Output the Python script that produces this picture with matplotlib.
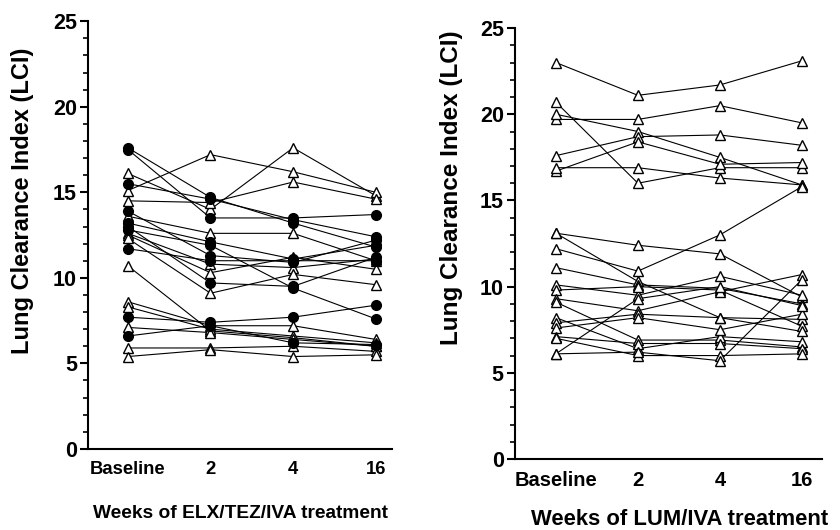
import matplotlib.pyplot as plt
from matplotlib.ticker import MultipleLocator

plt.rcParams["font.family"] = ["Liberation Sans", "DejaVu Sans"]
plt.rcParams["font.weight"] = "bold"

WEEKS = ["Baseline", "2", "4", "16"]

# ELX/TEZ/IVA: filled circles and open triangles, one row per subject
elx_filled = [
    [17.5, 13.5, 13.5, 13.7],
    [17.6, 14.7, 13.2, 11.8],
    [15.5, 14.6, 13.4, 12.4],
    [13.9, 11.3, 10.9, 12.2],
    [13.0, 9.7, 9.5, 11.2],
    [12.8, 11.9, 9.4, 7.6],
    [11.7, 11.0, 11.0, 11.0],
    [13.2, 12.1, 11.1, 11.9],
    [7.7, 7.4, 7.7, 8.4],
    [6.6, 7.2, 6.2, 6.1],
]
elx_open = [
    [16.1, 14.0, 17.6, 14.8],
    [15.1, 17.2, 16.2, 15.0],
    [14.5, 14.4, 15.6, 14.6],
    [13.6, 12.6, 12.6, 11.0],
    [12.6, 10.8, 10.6, 11.1],
    [12.5, 10.3, 11.2, 10.5],
    [12.3, 9.1, 10.2, 9.6],
    [10.7, 6.9, 6.5, 6.0],
    [8.6, 7.2, 7.2, 6.4],
    [8.3, 7.0, 6.6, 6.2],
    [7.1, 6.8, 6.4, 6.0],
    [5.9, 5.9, 6.0, 5.7],
    [5.4, 5.8, 5.4, 5.5],
]

# LUM/IVA: open triangles only
lum_open = [
    [23.0, 21.1, 21.7, 23.1],
    [19.7, 19.7, 20.5, 19.5],
    [20.7, 16.0, 16.9, 16.9],
    [20.0, 19.0, 17.5, 15.9],
    [17.6, 18.7, 18.8, 18.2],
    [16.7, 18.4, 17.1, 17.2],
    [16.9, 16.9, 16.3, 15.9],
    [13.1, 12.4, 11.9, 9.4],
    [13.1, 10.3, 8.2, 8.1],
    [12.2, 10.9, 13.0, 15.8],
    [11.1, 10.1, 9.9, 9.0],
    [10.1, 9.5, 10.6, 9.5],
    [9.8, 10.0, 9.8, 7.7],
    [9.3, 8.6, 9.7, 10.7],
    [9.1, 6.9, 6.9, 6.5],
    [8.2, 6.4, 7.1, 6.8],
    [7.9, 8.4, 8.2, 7.4],
    [7.6, 8.2, 7.5, 8.4],
    [7.1, 6.7, 6.7, 6.4],
    [7.0, 6.0, 6.0, 6.1],
    [6.1, 9.3, 10.0, 8.9],
    [6.1, 6.2, 5.7, 10.4],
]


def draw_subjects(ax, rows, filled):
    x = range(len(WEEKS))
    for vals in rows:
        ax.plot(x, vals, color="black", lw=0.8, zorder=2)
    for vals in rows:
        if filled:
            ax.plot(x, vals, ls="none", marker="o", ms=7, mfc="black",
                    mec="black", zorder=3)
        else:
            ax.plot(x, vals, ls="none", marker="^", ms=7.5, mfc="white",
                    mec="black", mew=1.0, zorder=3)


def style_axis(ax, xlabel, xlim, xtick_size, xlabel_size, ylabel_size,
               xlabel_pos, ylabel_pos):
    ax.set_ylim(0, 25)
    ax.set_xlim(*xlim)
    ax.yaxis.set_major_locator(MultipleLocator(5))
    ax.yaxis.set_minor_locator(MultipleLocator(1))
    ax.set_xticks(range(len(WEEKS)))
    ax.set_xticklabels(WEEKS, fontsize=xtick_size, fontweight="bold")
    ax.tick_params(axis="x", length=0, pad=9)
    ax.tick_params(axis="y", which="major", length=6, width=1.5,
                   labelsize=15.5, pad=2)
    ax.tick_params(axis="y", which="minor", length=3.5, width=1.2)
    for lab in ax.get_yticklabels():
        lab.set_fontweight("bold")
    for s in ["top", "right"]:
        ax.spines[s].set_visible(False)
    for s in ["left", "bottom"]:
        ax.spines[s].set_linewidth(1.5)
    ax.set_ylabel("Lung Clearance Index (LCI)", fontsize=ylabel_size,
                  fontweight="bold", va="center")
    ax.set_xlabel(xlabel, fontsize=xlabel_size, fontweight="bold", va="center")
    ax.xaxis.set_label_coords(*xlabel_pos)
    ax.yaxis.set_label_coords(*ylabel_pos)


fig = plt.figure(figsize=(8.4, 5.3), dpi=100)
ax1 = fig.add_axes([0.105, 0.153, 0.362, 0.807])
ax2 = fig.add_axes([0.613, 0.134, 0.366, 0.813])

draw_subjects(ax1, elx_open, filled=False)
draw_subjects(ax1, elx_filled, filled=True)
style_axis(ax1, "Weeks of ELX/TEZ/IVA treatment", (-0.48, 3.2),
           xtick_size=13.3, xlabel_size=13.8, ylabel_size=17,
           xlabel_pos=(0.5, -0.150), ylabel_pos=(-0.217, 0.58))

draw_subjects(ax2, lum_open, filled=False)
style_axis(ax2, "Weeks of LUM/IVA treatment", (-0.5, 3.25),
           xtick_size=14.5, xlabel_size=15.8, ylabel_size=17.5,
           xlabel_pos=(0.537, -0.1415), ylabel_pos=(-0.205, 0.63))

fig.savefig("out.png", dpi=100)
